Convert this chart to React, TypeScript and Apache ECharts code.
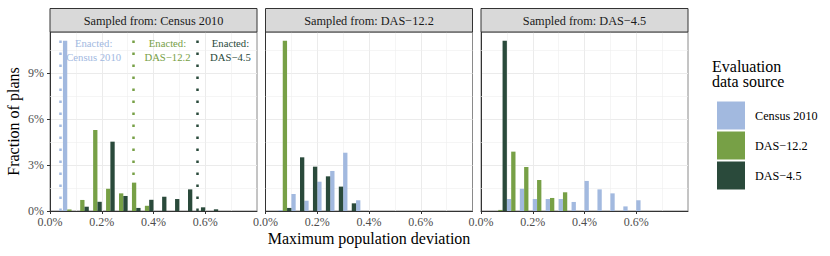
import React, { useEffect, useRef } from 'react';
import * as echarts from 'echarts';

const sources = ['Census 2010', 'DAS−12.2', 'DAS−4.5'];
const panelTitles = ['Sampled from: Census 2010', 'Sampled from: DAS−12.2', 'Sampled from: DAS−4.5'];
const binCenters = [0.075, 0.125, 0.175, 0.225, 0.275, 0.325, 0.375, 0.425, 0.475, 0.525, 0.575, 0.625];
const binWidth = 0.05;

// Panel 1: sampled from Census 2010
const p1Census = [11.1, 0, 0, 0, 0, 0, 0, 0, 0, 0, 0, 0];
const p1Das12 = [0.1, 0.72, 5.28, 1.45, 1.15, 1.85, 0.34, 0, 0, 0, 0, 0];
const p1Das45 = [0, 0.28, 0.6, 4.52, 0.98, 0.2, 0.73, 0.93, 0.78, 1.41, 0.24, 0.11];
// Panel 2: sampled from DAS-12.2
const p2Census = [0.05, 1.11, 0.67, 1.91, 2.61, 3.8, 0.7, 0, 0, 0, 0, 0];
const p2Das12 = [11.1, 0, 0, 0, 0, 0, 0, 0, 0, 0, 0, 0];
const p2Das45 = [0.2, 3.5, 2.89, 2.26, 1.59, 0.5, 0, 0, 0, 0, 0, 0];
// Panel 3: sampled from DAS-4.5
const p3Census = [0, 0.78, 1.45, 0.78, 0.78, 0.78, 0.59, 1.96, 1.41, 1.15, 0.3, 0.7];
const p3Das12 = [0.07, 3.87, 2.87, 2.02, 0.85, 1.22, 0, 0, 0, 0, 0, 0];
const p3Das45 = [11.1, 0, 0, 0, 0, 0, 0, 0, 0, 0, 0, 0];

const enactedX = [0.0387, 0.324, 0.5675];
const enactedLabels = ['Enacted:\nCensus 2010', 'Enacted:\nDAS−12.2', 'Enacted:\nDAS−4.5'];
const enactedLabelOffset = 0.13;
const enactedLabelY = 10.5;

const xTicks = [0, 0.2, 0.4, 0.6];
const yTicks = [0, 3, 6, 9];
const yMinorLines = [1.5, 4.5, 7.5, 10.5];
const xMax = 0.8;
const yMax = 11.67;

const colors = ['#A2B9DF', '#77A046', '#2A4A3B'];
const FONT = '"Liberation Serif", "Times New Roman", serif';

const panelData = [
  [p1Census, p1Das12, p1Das45],
  [p2Census, p2Das12, p2Das45],
  [p3Census, p3Das12, p3Das45],
];

const gridLefts = [50, 265.5, 481];
const gridTop = 32;
const gridW = 207;
const gridH = 179;

export default function App() {
  const ref = useRef<HTMLDivElement>(null);
  useEffect(() => {
    if (!ref.current) return;
    const chart = echarts.init(ref.current, null, { renderer: 'svg' });

    const grids = gridLefts.map((l) => ({
      left: l, top: gridTop, width: gridW, height: gridH,
      show: true, borderColor: '#8A8A8A', borderWidth: 1, backgroundColor: '#fff',
    }));

    const xAxes = gridLefts.map((_, gi) => ({
      gridIndex: gi, type: 'value', min: 0, max: xMax, interval: 0.2,
      axisLine: { show: true, onZero: false, lineStyle: { color: '#333', width: 1 } },
      axisTick: { show: true, length: 3, customValues: xTicks, lineStyle: { color: '#333' } },
      axisLabel: {
        customValues: xTicks, margin: 5, fontSize: 12, color: '#4D4D4D', fontFamily: FONT,
        formatter: (v: number) => `${v.toFixed(1)}%`,
      },
      splitLine: { show: true, lineStyle: { color: '#EBEBEB', width: 1 } },
      minorTick: { show: false, splitNumber: 2 },
      minorSplitLine: { show: true, lineStyle: { color: '#EFEFEF', width: 0.6 } },
    }));

    const yAxes = gridLefts.map((_, gi) => ({
      gridIndex: gi, type: 'value', min: 0, max: yMax, interval: 3,
      axisLine: { show: true, onZero: false, lineStyle: { color: '#333', width: 1 } },
      axisTick: { show: gi === 0, length: 3, customValues: yTicks, lineStyle: { color: '#333' } },
      axisLabel: {
        show: gi === 0, customValues: yTicks, margin: 6, fontSize: 12, color: '#4D4D4D', fontFamily: FONT,
        formatter: (v: number) => `${v}%`,
      },
      splitLine: { show: true, lineStyle: { color: '#EBEBEB', width: 1 } },
    }));

    const series: any[] = [];
    panelData.forEach((sets, gi) => {
      sets.forEach((vals, si) => {
        const s: any = {
          type: 'custom', name: sources[si], xAxisIndex: gi, yAxisIndex: gi,
          itemStyle: { color: colors[si] },
          encode: { x: 0, y: 1 },
          data: binCenters.map((c, k) => [c, vals[k]]),
          z: 3,
          renderItem: (params: any, api: any) => {
            const c = api.value(0);
            const v = api.value(1);
            if (!v) return { type: 'group', children: [] };
            const w = binWidth / 3;
            const x0 = c - binWidth / 2 + si * w;
            const p0 = api.coord([x0, v]);
            const p1 = api.coord([x0 + w, 0]);
            return {
              type: 'rect',
              shape: { x: p0[0], y: p0[1], width: p1[0] - p0[0], height: p1[1] - p0[1] },
              style: { fill: colors[si] },
            };
          },
        };
        if (si === 0) {
          s.markLine = {
            silent: true, symbol: ['none', 'none'], z: 1, animation: false,
            label: { show: false },
            lineStyle: { color: '#EFEFEF', width: 0.6, type: 'solid' },
            data: yMinorLines.map((y) => ({ yAxis: y })),
          };
        }
        series.push(s);
      });
    });

    series.push({
      type: 'custom', xAxisIndex: 0, yAxisIndex: 0, z: 4,
      data: enactedX.map((x) => [x + enactedLabelOffset, enactedLabelY]),
      encode: { x: 0, y: 1 },
      renderItem: (params: any, api: any) => {
        const p = api.coord([api.value(0), api.value(1)]);
        return {
          type: 'text', x: p[0], y: p[1],
          style: {
            text: enactedLabels[params.dataIndex], fill: colors[params.dataIndex],
            fontSize: 10.7, fontFamily: FONT, align: 'center', verticalAlign: 'middle', lineHeight: 14,
          },
        };
      },
      markLine: {
        silent: true, symbol: ['none', 'none'], z: 4, animation: false,
        label: { show: false },
        data: enactedX.map((x, i) => ({
          xAxis: x,
          lineStyle: { color: colors[i], width: 2.5, type: [2.5, 9.5], cap: 'butt' },
        })),
      },
    });

    const graphics: any[] = [];
    gridLefts.forEach((l, gi) => {
      graphics.push({
        type: 'rect', z: 10,
        shape: { x: l, y: 8.5, width: gridW, height: 23.5 },
        style: { fill: '#D9D9D9', stroke: '#333', lineWidth: 1 },
      });
      graphics.push({
        type: 'text', z: 11, x: l + gridW / 2, y: 20.5,
        style: { text: panelTitles[gi], fontSize: 12.3, fontFamily: FONT, fill: '#1A1A1A', align: 'center', verticalAlign: 'middle' },
      });
    });
    graphics.push({
      type: 'text', x: 13, y: gridTop + gridH / 2, rotation: Math.PI / 2,
      style: { text: 'Fraction of plans', fontSize: 16, fontFamily: FONT, fill: '#000', align: 'center', verticalAlign: 'middle' },
    });
    graphics.push({
      type: 'text', x: 369, y: 238,
      style: { text: 'Maximum population deviation', fontSize: 16, fontFamily: FONT, fill: '#000', align: 'center', verticalAlign: 'middle' },
    });
    graphics.push({
      type: 'text', x: 712, y: 74,
      style: { text: 'Evaluation\ndata source', fontSize: 16, fontFamily: FONT, fill: '#000', align: 'left', verticalAlign: 'middle', lineHeight: 15.5 },
    });

    chart.setOption({
      animation: false,
      color: colors,
      textStyle: { fontFamily: FONT },
      grid: grids,
      xAxis: xAxes,
      yAxis: yAxes,
      series,
      legend: {
        data: sources, orient: 'vertical', left: 712, top: 96.5,
        itemWidth: 28, itemHeight: 28, itemGap: 2, icon: 'rect',
        textStyle: { fontSize: 12.2, fontFamily: FONT, color: '#000', padding: [0, 0, 0, 5] },
        selectedMode: false,
      },
      graphic: graphics,
    });
    return () => chart.dispose();
  }, []);
  return <div ref={ref} style={{ position: 'absolute', left: 0, top: 0, width: 830, height: 256 }} />;
}
